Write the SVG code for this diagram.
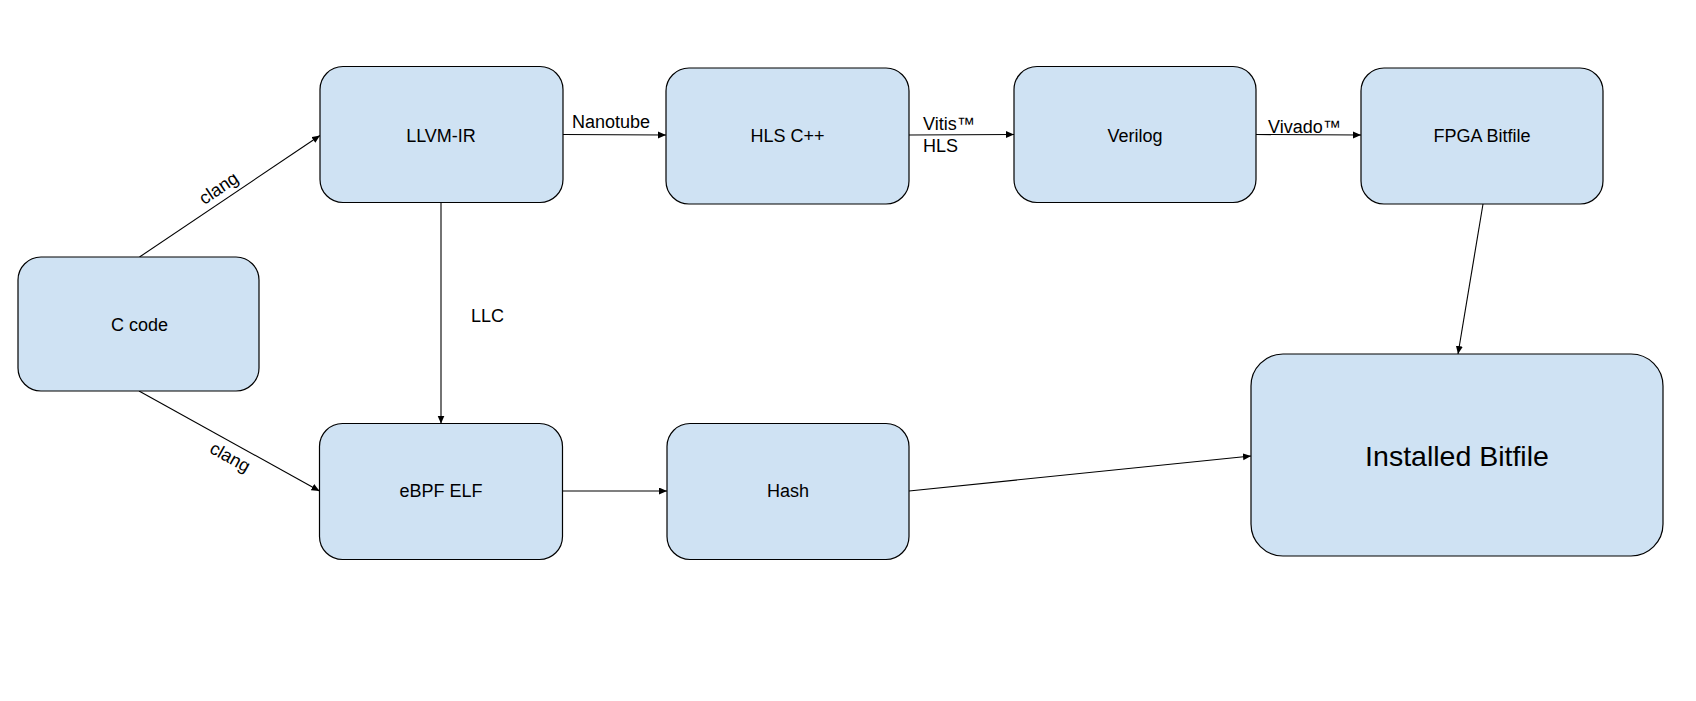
<svg xmlns="http://www.w3.org/2000/svg" width="1696" height="701" viewBox="0 0 1696 701">
<style>
.box{fill:#cfe2f3;stroke:#000;stroke-width:1.2}
.t{font-family:"Liberation Sans",Arial,sans-serif;font-size:18px;fill:#000}
.c{text-anchor:middle;dominant-baseline:central}
.big{font-size:28.5px}
.e{fill:none;stroke:#000;stroke-width:1.1}
</style>
<defs>
<marker id="ah" markerUnits="userSpaceOnUse" markerWidth="10" markerHeight="8" refX="8" refY="3.5" orient="auto">
<path d="M0,0 L8,3.5 L0,7 Z" fill="#000"/>
</marker>
</defs>
<rect width="1696" height="701" fill="#fff"/>
<g id="connectors">
<line class="e" x1="139.5" y1="257" x2="320" y2="135.5" marker-end="url(#ah)"/>
<line class="e" x1="139" y1="391" x2="319.5" y2="491" marker-end="url(#ah)"/>
<line class="e" x1="441" y1="202.5" x2="441" y2="423.5" marker-end="url(#ah)"/>
<line class="e" x1="563" y1="134.5" x2="666" y2="135" marker-end="url(#ah)"/>
<line class="e" x1="909" y1="135" x2="1014" y2="134.5" marker-end="url(#ah)"/>
<line class="e" x1="1256" y1="134.5" x2="1361" y2="135" marker-end="url(#ah)"/>
<line class="e" x1="1483" y1="204" x2="1458" y2="354" marker-end="url(#ah)"/>
<line class="e" x1="562.5" y1="491" x2="667" y2="491" marker-end="url(#ah)"/>
<line class="e" x1="909" y1="491" x2="1251" y2="456" marker-end="url(#ah)"/>
<text class="t" text-anchor="middle" transform="translate(226,199) rotate(-34)" y="-7">clang</text>
<text class="t" text-anchor="middle" transform="translate(237,445) rotate(29)" y="20">clang</text>
<text class="t" x="471" y="321.5">LLC</text>
<text class="t" x="572" y="128">Nanotube</text>
<text class="t" x="923" y="130">Vitis™</text>
<text class="t" x="923" y="152">HLS</text>
<text class="t" x="1268" y="132.5">Vivado™</text>
</g>
<g id="c-code"><rect class="box" x="18" y="257" width="241" height="134" rx="23"/><text class="t c" x="139.5" y="325">C code</text></g>
<g id="llvm-ir"><rect class="box" x="320" y="66.5" width="243" height="136" rx="23"/><text class="t c" x="441" y="136">LLVM-IR</text></g>
<g id="hls-cpp"><rect class="box" x="666" y="68" width="243" height="136" rx="23"/><text class="t c" x="787.5" y="136">HLS C++</text></g>
<g id="verilog"><rect class="box" x="1014" y="66.5" width="242" height="136" rx="23"/><text class="t c" x="1135" y="136">Verilog</text></g>
<g id="fpga-bitfile"><rect class="box" x="1361" y="68" width="242" height="136" rx="23"/><text class="t c" x="1482" y="136">FPGA Bitfile</text></g>
<g id="ebpf-elf"><rect class="box" x="319.5" y="423.5" width="243" height="136" rx="23"/><text class="t c" x="441" y="491">eBPF ELF</text></g>
<g id="hash"><rect class="box" x="667" y="423.5" width="242" height="136" rx="23"/><text class="t c" x="788" y="491">Hash</text></g>
<g id="installed-bitfile"><rect class="box" x="1251" y="354" width="412" height="202" rx="32"/><text class="t c big" x="1457" y="456">Installed Bitfile</text></g>
</svg>
